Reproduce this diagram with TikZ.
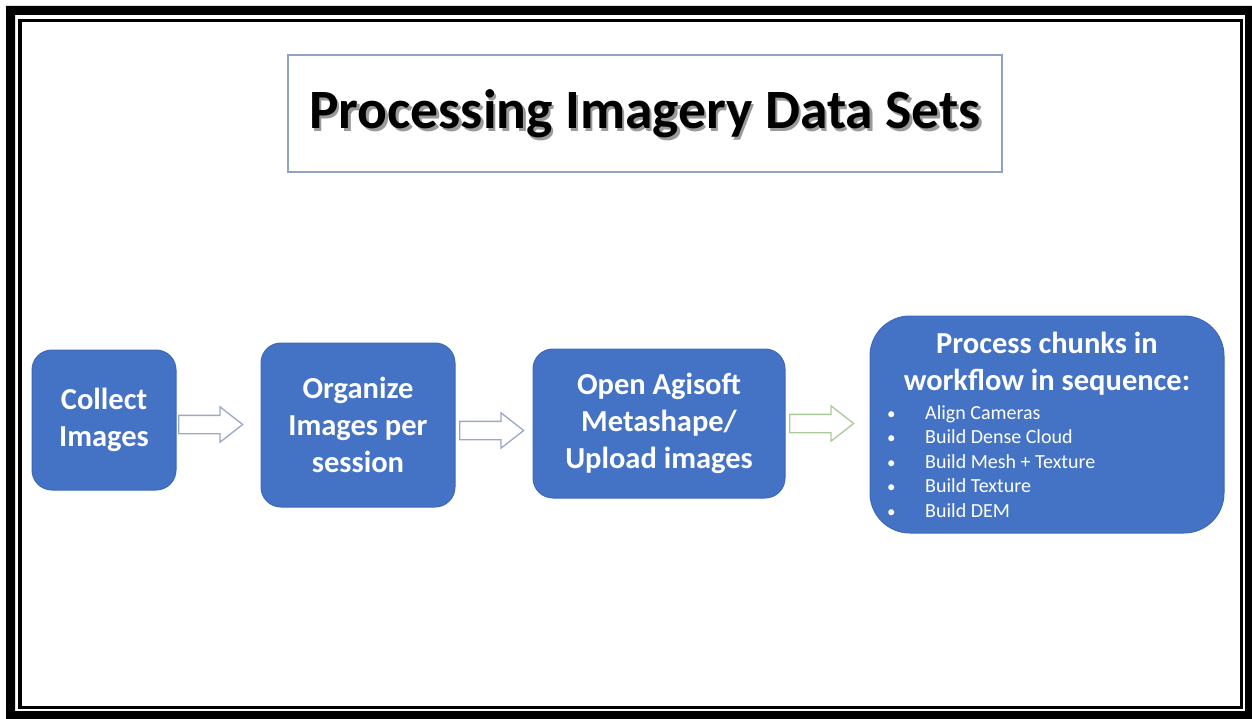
\documentclass[tikz,border=0pt]{standalone}
\usepackage{fontspec}
\setmainfont{Carlito}
\usetikzlibrary{shapes.arrows}
\definecolor{boxblue}{HTML}{4472C4}
\definecolor{boxedge}{HTML}{3D69B8}
\definecolor{arrowedge}{HTML}{9AA8C4}
\definecolor{arrowgreen}{HTML}{AACB98}
\definecolor{titleedge}{HTML}{8FA3C6}
\definecolor{shadowgrey}{HTML}{9A9A9A}
\newcommand{\shadowed}[1]{\makebox[0pt][l]{\hspace{2.5pt}\raisebox{-3pt}{\textcolor{shadowgrey}{#1}}}#1}
\newcommand{\bul}{\makebox[38pt][l]{\fontsize{17}{17}\selectfont•}}
\begin{document}
\begin{tikzpicture}[x=1pt,y=-1pt,
  stepbox/.style={rectangle, rounded corners=20pt, fill=boxblue, draw=boxedge, line width=1pt, inner sep=0pt},
  boxtext/.style={text=white, font=\bfseries\fontsize{30.5}{37}\selectfont, align=center, inner sep=0pt},
  listtext/.style={text=white, font=\fontsize{20}{24.5}\selectfont, align=left, inner sep=0pt},
  blockarrow/.style={single arrow, draw=arrowedge, fill=white, line width=1.3pt, minimum height=64pt, minimum width=34pt, single arrow head extend=8.5pt, single arrow tip angle=76, inner xsep=0pt, inner ysep=8.5pt},
  titletext/.style={font=\bfseries\fontsize{55.5}{64}\selectfont, inner sep=0pt}
]
\useasboundingbox (0,0) rectangle (1252,719);
% frame
\fill[black, even odd rule] (6,6) rectangle (1252,719) (15,15) rectangle (1245,711);
\draw[black, line width=3.5pt] (20,20.5) rectangle (1241.5,707.5);
% title
\node[draw=titleedge, line width=1.2pt, minimum width=714pt, minimum height=117pt, inner sep=0pt] (titlebox) at (645,113.5) {};
\node[titletext, text=black] (title) at (645,115) {\shadowed{Processing Imagery Data Sets}};
% boxes
\node[stepbox, minimum width=144pt, minimum height=140pt] (b1) at (104,420) {};
\node[boxtext] (b1t) at (b1.center) {Collect\\Images};
\node[stepbox, minimum width=194pt, minimum height=164pt] (b2) at (358,425) {};
\node[boxtext] (b2t) at (b2.center) {Organize\\Images per\\session};
\node[stepbox, minimum width=252pt, minimum height=149pt] (b3) at (659,423.5) {};
\node[boxtext] (b3t) at (b3.center) {Open Agisoft\\Metashape/\\Upload images};
\node[stepbox, rounded corners=40pt, minimum width=354pt, minimum height=217pt] (b4) at (1047,424.5) {};
\node[boxtext] (b4t) at (1047,364) {Process chunks in\\workflow in sequence:};
\node[listtext, anchor=north west] (b4l) at (887,405) {%
\bul Align Cameras\\
\bul Build Dense  Cloud\\
\bul Build Mesh + Texture\\
\bul Build Texture\\
\bul Build DEM};
% arrows
\node[blockarrow, anchor=tail] (a1) at (178,424.5) {};
\node[blockarrow, anchor=tail] (a2) at (459,430.5) {};
\node[blockarrow, anchor=tail, draw=arrowgreen] (a3) at (789,423.5) {};
\end{tikzpicture}
\end{document}
